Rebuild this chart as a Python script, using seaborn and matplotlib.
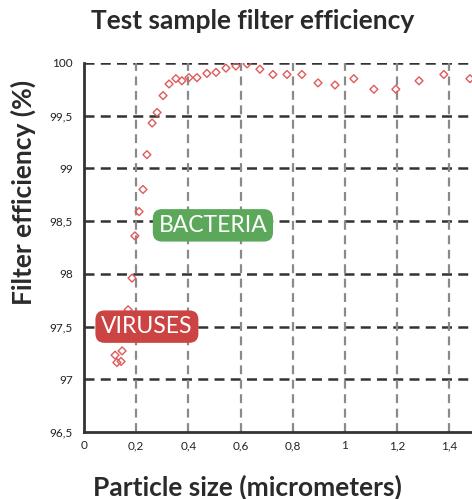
import numpy as np
import pandas as pd
import matplotlib.pyplot as plt
import seaborn as sns

# particle size (micrometers) and filter efficiency (%)
particle_size = [0.119, 0.126, 0.142, 0.146, 0.157, 0.169, 0.184, 0.195, 0.211,
                 0.226, 0.241, 0.261, 0.280, 0.303, 0.326, 0.352, 0.375, 0.402,
                 0.433, 0.471, 0.506, 0.544, 0.582, 0.625, 0.674, 0.724, 0.778,
                 0.835, 0.897, 0.962, 1.034, 1.111, 1.195, 1.284, 1.379, 1.479]
efficiency = [97.23, 97.16, 97.17, 97.27, 97.40, 97.66, 97.96, 98.36, 98.59,
              98.80, 99.13, 99.43, 99.53, 99.69, 99.80, 99.85, 99.83, 99.86,
              99.86, 99.90, 99.91, 99.95, 99.97, 99.99, 99.94, 99.89, 99.89,
              99.89, 99.81, 99.79, 99.85, 99.75, 99.75, 99.83, 99.89, 99.85]

x_ticks = [0, 0.2, 0.4, 0.6, 0.8, 1, 1.2, 1.4]
x_ticklabels = ['0', '0,2', '0,4', '0,6', '0,8', '1', '1,2', '1,4']
y_ticks = [96.5, 97, 97.5, 98, 98.5, 99, 99.5, 100]
y_ticklabels = ['96,5', '97', '97,5', '98', '98,5', '99', '99,5', '100']

df = pd.DataFrame({'size': particle_size, 'eff': efficiency})

sns.set_style('white')
plt.rcParams['font.family'] = ['Lato', 'DejaVu Sans']

fig = plt.figure(figsize=(4.72, 4.99), dpi=100)
ax = fig.add_axes([0.178, 0.134, 0.822, 0.74])

# grid first so the markers sit on top
for yv in y_ticks[1:]:
    ax.axhline(yv, color='#333333', lw=1.8, ls=(0, (4, 2.5)), zorder=1)
for xv in x_ticks[1:]:
    ax.axvline(xv, color='#8a8a8a', lw=1.6, ls=(0, (4, 2.5)), zorder=1)

sns.scatterplot(data=df, x='size', y='eff', marker='D', s=16,
                facecolor='none', edgecolor='#e05a5a', linewidth=1.0,
                ax=ax, zorder=3)

ax.set_xlim(0, 1.487)
ax.set_ylim(96.5, 100)
ax.set_xticks(x_ticks)
ax.set_xticklabels(x_ticklabels)
ax.set_yticks(y_ticks)
ax.set_yticklabels(y_ticklabels)
ax.tick_params(axis='both', labelsize=8.5, colors='#222222', length=0)
ax.tick_params(axis='y', length=4, width=1.5, color='#333333', pad=4)
ax.tick_params(axis='x', pad=6)

for side in ['top', 'right']:
    ax.spines[side].set_visible(False)
for side in ['left', 'bottom']:
    ax.spines[side].set_color('#333333')
    ax.spines[side].set_linewidth(2)

ax.set_xlabel('')
ax.set_ylabel('')

# category labels
ax.text(0.494, 98.46, 'BACTERIA', color='white', fontsize=16.5, ha='center',
        va='center', zorder=5,
        bbox=dict(boxstyle='round,pad=0.25,rounding_size=0.4', fc='#5ba85b', ec='none'))
ax.text(0.241, 97.50, 'VIRUSES', color='white', fontsize=16.5, ha='center',
        va='center', zorder=5,
        bbox=dict(boxstyle='round,pad=0.25,rounding_size=0.4', fc='#cc4343', ec='none'))

fig.text(0.535, 0.958, 'Test sample filter efficiency', fontsize=19,
         fontweight='bold', ha='center', va='center', color='#2a2a2a')
fig.text(0.525, 0.024, 'Particle size (micrometers)', fontsize=19,
         fontweight='bold', ha='center', va='center', color='#2a2a2a')
fig.text(0.05, 0.615, 'Filter efficiency (%)', fontsize=19, rotation=90,
         fontweight='bold', ha='center', va='center', color='#2a2a2a')

fig.savefig('out.png', dpi=100, facecolor='white')
